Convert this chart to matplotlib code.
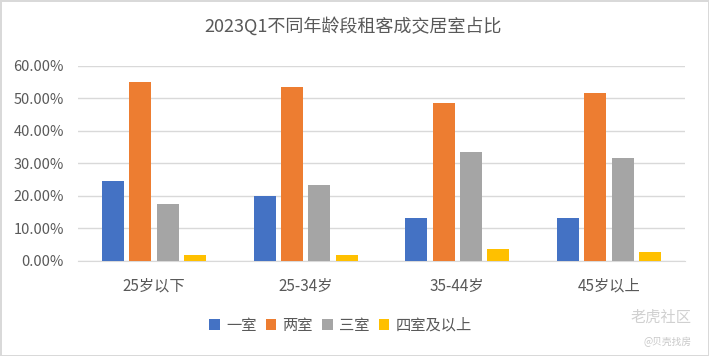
import numpy as np
import matplotlib
matplotlib.use("Agg")
from matplotlib import pyplot as plt
from matplotlib.ticker import PercentFormatter

plt.rcParams['font.family'] = ['Noto Sans CJK SC', 'DejaVu Sans']

age_groups = ["25岁以下", "25-34岁", "35-44岁", "45岁以上"]
room_types = ["一室", "两室", "三室", "四室及以上"]
one_room = [24.6, 20.1, 13.3, 13.3]
two_room = [54.9, 53.6, 48.5, 51.5]
three_room = [17.6, 23.5, 33.6, 31.8]
four_plus = [1.8, 1.8, 3.8, 2.9]
colors = ["#4472C4", "#ED7D31", "#A5A5A5", "#FFC000"]

series = [one_room, two_room, three_room, four_plus]
text_color = "#595959"

fig = plt.figure(figsize=(7.09, 3.56), dpi=100)
fig.patch.set_edgecolor("#D9D9D9")
fig.patch.set_linewidth(2)
ax = fig.add_axes([0.110, 0.267, 0.856, 0.548])

x = np.arange(len(age_groups))
width = 0.145
step = 0.18
for i, (vals, name, c) in enumerate(zip(series, room_types, colors)):
    ax.bar(x + (i - 1.5) * step, vals, width, color=c, label=name, zorder=3)

ax.set_xlim(-0.5, len(age_groups) - 0.5)
ax.set_ylim(0, 60)
ax.set_yticks(np.arange(0, 61, 10))
ax.yaxis.set_major_formatter(PercentFormatter(decimals=2))
ax.set_xticks(x)
ax.set_xticklabels(age_groups)
ax.grid(axis="y", color="#D9D9D9", linewidth=1, zorder=0)
for s in ["top", "right", "left"]:
    ax.spines[s].set_visible(False)
ax.spines["bottom"].set_color("#D9D9D9")
ax.tick_params(length=0, colors=text_color, labelsize=10.5)
ax.tick_params(axis="x", labelsize=11, pad=12)
ax.tick_params(axis="y", pad=10)

fig.text(0.498, 0.925, "2023Q1不同年龄段租客成交居室占比", ha="center", va="center",
         fontsize=13, color=text_color)

fig.legend(loc="center", bbox_to_anchor=(0.48, 0.087), ncol=4, frameon=False,
           fontsize=11, handlelength=0.7, handleheight=0.7, handletextpad=0.4,
           columnspacing=0.6, labelcolor=text_color)

fig.text(0.975, 0.11, "老虎社区", ha="right", va="center", fontsize=11, color="#D0D0D0")
fig.text(0.975, 0.04, "@贝壳找房", ha="right", va="center", fontsize=7, color="#C8C8C8")

plt.savefig("out.png", dpi=100)
plt.close()
